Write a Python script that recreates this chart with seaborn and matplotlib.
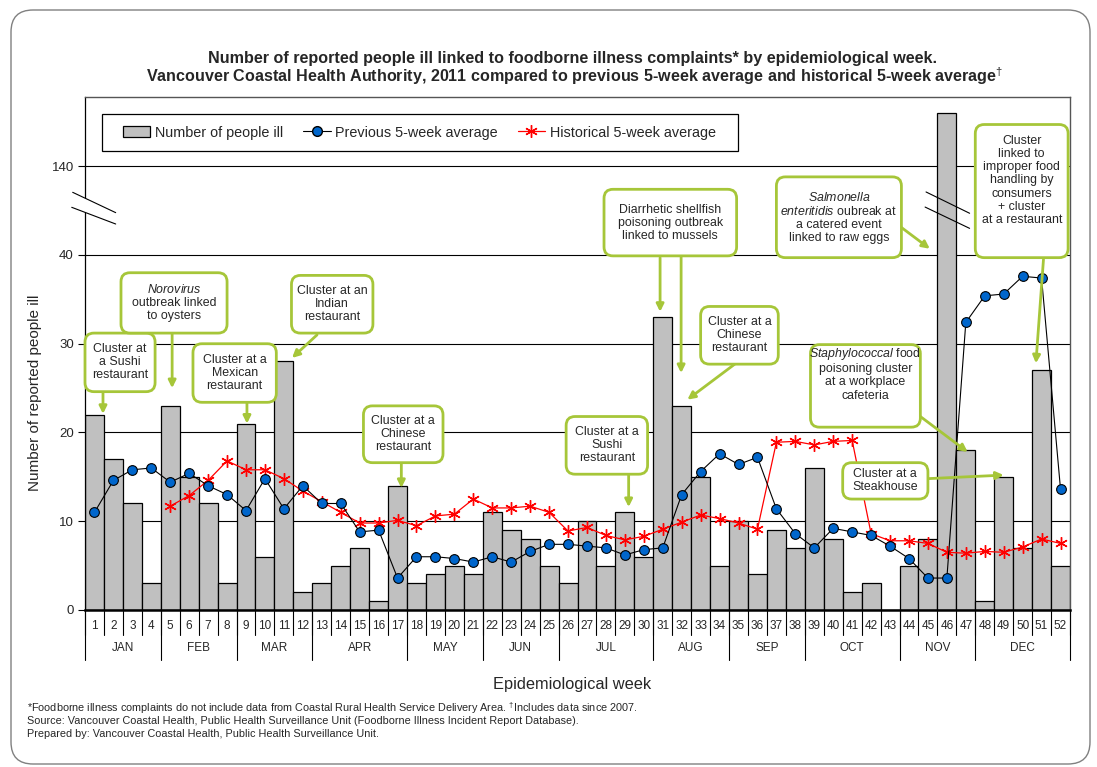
import matplotlib
matplotlib.use("Agg")
import matplotlib.pyplot as plt
from matplotlib.patches import FancyBboxPatch, Patch, Polygon, Rectangle
from matplotlib.lines import Line2D
from matplotlib.transforms import IdentityTransform
import seaborn as sns
import numpy as np

sns.set_style("white")
plt.rcParams['font.family'] = ['Liberation Sans', 'DejaVu Sans']
plt.rcParams['mathtext.fontset'] = 'custom'
plt.rcParams['mathtext.rm'] = 'Liberation Sans'
plt.rcParams['mathtext.it'] = 'Liberation Sans:italic'
plt.rcParams['mathtext.bf'] = 'Liberation Sans:bold'

# datos
weeks = list(range(1, 53))
ill = [22, 17, 12, 3, 23, 15, 12, 3, 21, 6, 28, 2, 3, 5, 7, 1, 14, 3, 4, 5,
       4, 11, 9, 8, 5, 3, 10, 5, 11, 6, 33, 23, 15, 5, 10, 4, 9, 7, 16, 8,
       2, 3, 0, 5, 8, 146, 18, 1, 15, 7, 27, 5]
prev_avg = [11.0, 14.6, 15.8, 16.0, 14.4, 15.4, 14.0, 13.0, 11.2, 14.8,
            11.4, 14.0, 12.0, 12.0, 8.8, 9.0, 3.6, 6.0, 6.0, 5.8,
            5.4, 6.0, 5.4, 6.6, 7.4, 7.4, 7.2, 7.0, 6.2, 6.8,
            7.0, 13.0, 15.6, 17.6, 16.4, 17.2, 11.4, 8.6, 7.0, 9.2,
            8.8, 8.4, 7.2, 5.8, 3.6, 3.6, 32.4, 35.4, 35.6, 37.6,
            37.4, 13.6]
hist_weeks = list(range(5, 53))
hist_avg = [11.7, 12.9, 14.6, 16.8, 15.8, 15.8, 14.8, 13.4, 12.2, 11.0,
            9.8, 9.8, 10.1, 9.5, 10.6, 10.8, 12.5, 11.5, 11.5, 11.7,
            11.0, 8.9, 9.3, 8.4, 7.9, 8.3, 9.1, 9.9, 10.7, 10.3,
            9.8, 9.1, 18.9, 19.0, 18.6, 19.0, 19.1, 8.6, 7.8, 7.8,
            7.5, 6.5, 6.4, 6.6, 6.5, 7.1, 8.0, 7.5]
months = ['JAN', 'FEB', 'MAR', 'APR', 'MAY', 'JUN', 'JUL', 'AUG', 'SEP', 'OCT', 'NOV', 'DEC']
month_weeks = [4, 4, 4, 5, 4, 4, 5, 4, 4, 5, 4, 5]
yticks = [0, 10, 20, 30, 40, 140]

# eje cortado entre 40 y 140
def brk(v):
    return v if v <= 45 else v - 90

green = '#A6C639'
fig = plt.figure(figsize=(10.97, 7.67), dpi=100)
ax = fig.add_axes([85 / 1097, 157 / 767, 985 / 1097, 513 / 767])

sns.barplot(x=weeks, y=[brk(v) for v in ill], native_scale=True, width=1.0,
            color='#C0C0C0', saturation=1, edgecolor='black', linewidth=0.9, ax=ax, zorder=2)
sns.lineplot(x=weeks, y=prev_avg, color='black', linewidth=0.8, marker='o',
             markersize=7, markerfacecolor='#0066CC', markeredgecolor='black',
             markeredgewidth=0.8, ax=ax, zorder=4)
sns.lineplot(x=hist_weeks, y=hist_avg, color='#FF0000', linewidth=0.9, marker=(6, 2, 0),
             markersize=9, markeredgecolor='#FF0000', markeredgewidth=1.0, ax=ax, zorder=3)

ax.set_xlim(0.5, 52.5)
ax.set_ylim(0, 57.8)
ax.set_axisbelow(True)
ax.set_yticks([brk(t) for t in yticks])
ax.set_yticklabels([str(t) for t in yticks], fontsize=9.5)
ax.yaxis.grid(True, color='black', linewidth=0.8)
ax.tick_params(axis='y', direction='out', length=5, width=0.8, color='black', pad=3, left=True)
ax.set_xticks([])
ax.set_xlabel('')
ax.set_ylabel('Number of reported people ill', fontsize=11)
ax.yaxis.set_label_coords(-0.044, 0.423)
for s in ['top', 'right']:
    ax.spines[s].set_color('#555555')
    ax.spines[s].set_linewidth(1.0)
ax.spines['left'].set_color('black')
ax.spines['left'].set_linewidth(0.9)
ax.spines['bottom'].set_color('black')
ax.spines['bottom'].set_linewidth(1.8)

# tabla de semanas y meses bajo el eje
xt = ax.get_xaxis_transform()
for w in weeks:
    ax.text(w, -0.031, str(w), transform=xt, ha='center', va='center', fontsize=8.5)
edges = [0.5] + list(np.cumsum(month_weeks) + 0.5)
for e in np.arange(0.5, 53, 1.0):
    ax.plot([e, e], [0, -0.049], transform=xt, color='black', lw=0.8, clip_on=False)
for i, m in enumerate(months):
    ax.plot([edges[i], edges[i]], [0, -0.097], transform=xt, color='black', lw=0.8, clip_on=False)
    ax.text((edges[i] + edges[i + 1]) / 2, -0.074, m, transform=xt, ha='center', va='center', fontsize=8.5)
ax.plot([edges[-1], edges[-1]], [0, -0.097], transform=xt, color='black', lw=0.8, clip_on=False)

# marcas de corte
poly = Polygon([[-0.15, 47.06], [2.12, 44.77], [2.12, 43.49], [-0.2, 45.37]],
               closed=True, facecolor='white', edgecolor='none', clip_on=False, zorder=5)
ax.add_patch(poly)
ax.plot([-0.15, 2.12], [47.06, 44.77], color='black', lw=0.8, clip_on=False, zorder=6)
ax.plot([-0.2, 2.12], [45.37, 43.49], color='black', lw=0.8, clip_on=False, zorder=6)
ax.plot([44.9, 47.2], [47.1, 44.7], color='black', lw=0.8, zorder=6)
ax.plot([44.85, 47.2], [45.4, 43.0], color='black', lw=0.8, zorder=6)

# leyenda (marco dibujado aparte)
ax.add_patch(Rectangle((0.0173, 0.8947), 0.646, 0.0722, transform=ax.transAxes,
                       facecolor='white', edgecolor='black', linewidth=0.9, zorder=6))
handles = [Patch(facecolor='#C0C0C0', edgecolor='black', linewidth=0.9),
           Line2D([], [], color='black', lw=0.8, marker='o', markersize=7,
                  markerfacecolor='#0066CC', markeredgecolor='black'),
           Line2D([], [], color='#FF0000', lw=0.9, marker=(6, 2, 0), markersize=9,
                  markeredgecolor='#FF0000')]
labels = ['Number of people ill', 'Previous 5-week average', 'Historical 5-week average']
leg = ax.legend(handles, labels, loc='center left', bbox_to_anchor=((123 - 85) / 985, (610 - 132.5) / 513),
                ncol=3, fontsize=10.4, frameon=False, handlelength=1.9, handletextpad=0.3,
                columnspacing=1.4, borderpad=0, borderaxespad=0)
leg.set_zorder(7)

# cajas de anotacion: x0, x1, y0, y1, texto, y del texto (None = centro)
boxes = [
    (0.5, 4.2, 24.6, 31.2, 'Cluster at\na Sushi\nrestaurant', None),
    (2.4, 8.0, 31.2, 38.0, '$\\it{Norovirus}$\noutbreak linked\nto oysters', None),
    (6.2, 10.6, 23.4, 30.0, 'Cluster at a\nMexican\nrestaurant', None),
    (11.4, 15.7, 31.2, 37.7, 'Cluster at an\nIndian\nrestaurant', None),
    (15.2, 19.4, 16.6, 23.0, 'Cluster at a\nChinese\nrestaurant', None),
    (25.9, 30.2, 15.3, 21.8, 'Cluster at a\nSushi\nrestaurant', None),
    (27.9, 34.9, 39.9, 47.4, 'Diarrhetic shellfish\npoisoning outbreak\nlinked to mussels', None),
    (33.0, 37.1, 27.7, 34.2, 'Cluster at a\nChinese\nrestaurant', None),
    (37.0, 43.6, 39.7, 48.8, '$\\it{Salmonella}$\n$\\it{enteritidis}$ oubreak at\na catered event\nlinked to raw eggs', None),
    (47.5, 52.4, 39.7, 54.7, 'Cluster\nlinked to\nimproper food\nhandling by\nconsumers\n+ cluster\nat a restaurant', 48.4),
    (38.8, 44.6, 20.6, 29.9, '$\\it{Staphylococcal}$ food\npoisoning cluster\nat a workplace\ncafeteria', 26.6),
    (40.5, 45.0, 12.5, 16.6, 'Cluster at a\nSteakhouse', None),
]
arrows = [
    (1.45, 24.6, 1.45, 22.1), (5.1, 31.2, 5.1, 25.0), (9.05, 23.4, 9.05, 21.0),
    (12.75, 31.0, 11.43, 28.4), (17.2, 16.6, 17.2, 13.75), (29.2, 15.3, 29.2, 11.6),
    (30.86, 39.7, 30.86, 33.6), (31.97, 39.8, 31.97, 26.7), (34.8, 27.7, 32.3, 23.7),
    (43.6, 43.1, 45.1, 40.7), (51.1, 39.5, 50.7, 27.8), (44.6, 21.8, 47.1, 17.8),
    (45.0, 14.8, 49.0, 15.2),
]
for x0, y0, x1, y1 in arrows:
    ax.annotate('', xy=(x1, y1), xytext=(x0, y0), zorder=8,
                arrowprops=dict(arrowstyle='-|>', color=green, lw=2, mutation_scale=11,
                                shrinkA=0, shrinkB=0))
for x0, x1, y0, y1, txt, ty in boxes:
    p0 = ax.transData.transform((x0, y0))
    p1 = ax.transData.transform((x1, y1))
    fb = FancyBboxPatch(p0, p1[0] - p0[0], p1[1] - p0[1],
                        boxstyle='round,pad=0,rounding_size=9', transform=IdentityTransform(),
                        facecolor='white', edgecolor=green, linewidth=2, zorder=9, clip_on=False)
    ax.add_artist(fb)
    ax.text((x0 + x1) / 2, (y0 + y1) / 2 if ty is None else ty, txt, ha='center', va='center',
            fontsize=8.9, linespacing=1.12, zorder=10)

# titulos y notas
fig.text(572 / 1097, 1 - 58 / 767, 'Number of reported people ill linked to foodborne illness complaints* by epidemiological week.',
         ha='center', va='center', fontsize=11.6, fontweight='bold')
fig.text(575 / 1097, 1 - 76 / 767, 'Vancouver Coastal Health Authority, 2011 compared to previous 5-week average and historical 5-week average$^{\\dagger}$',
         ha='center', va='center', fontsize=11.6, fontweight='bold')
fig.text(572 / 1097, 1 - 684 / 767, 'Epidemiological week', ha='center', va='center', fontsize=11.8)
fig.text(27 / 1097, 1 - 708 / 767, '*Foodborne illness complaints do not include data from Coastal Rural Health Service Delivery Area. $^{\\dagger}$Includes data since 2007.',
         ha='left', va='center', fontsize=7.8)
fig.text(27 / 1097, 1 - 721 / 767, 'Source: Vancouver Coastal Health, Public Health Surveillance Unit (Foodborne Illness Incident Report Database).',
         ha='left', va='center', fontsize=7.8)
fig.text(27 / 1097, 1 - 734 / 767, 'Prepared by: Vancouver Coastal Health, Public Health Surveillance Unit.',
         ha='left', va='center', fontsize=7.8)

border = FancyBboxPatch((11, 3), 1079, 754, boxstyle='round,pad=0,rounding_size=22',
                        transform=IdentityTransform(), fill=False, edgecolor='#808080', linewidth=1)
fig.add_artist(border)

fig.savefig('out.png', dpi=100)
